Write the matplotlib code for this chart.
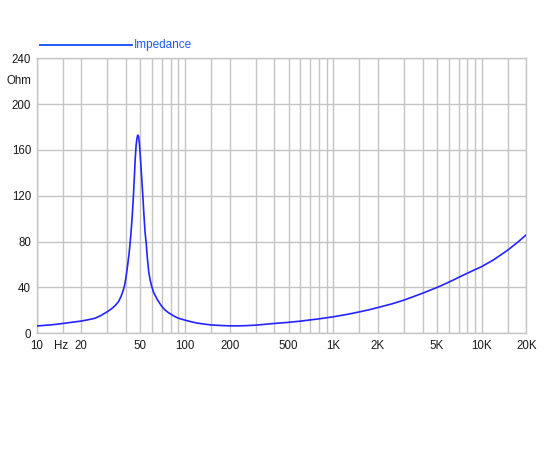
import numpy as np
import matplotlib.pyplot as plt
from matplotlib.lines import Line2D
from matplotlib.ticker import FixedLocator, NullLocator

plt.rcParams['font.family'] = ['Liberation Sans', 'DejaVu Sans']

# impedance curve (Hz, Ohm)
freq = [10, 11, 12, 13.5, 15, 17, 20, 22, 24.7, 27, 30, 32, 33.7, 35.6, 37, 38.4,
        39.3, 40, 41, 42, 43, 44, 44.8, 45.5, 46.2, 46.8, 47.4, 48.0, 48.6, 49.2,
        49.8, 50.5, 51.3, 52.0, 52.8, 53.8, 54.7, 55.7, 57.0, 58.2, 59.6, 61.5,
        64.4, 67, 70, 73.4, 77, 80, 85.7, 90, 95, 100, 110, 120, 135, 150, 175,
        200, 230, 260, 300, 350, 400, 450, 500, 600, 700, 800, 1000, 1250, 1500,
        1750, 2000, 2500, 3000, 3500, 4000, 5000, 6000, 7000, 8000, 10000, 12000,
        15000, 17500, 20000]
ohm = [6.4, 6.8, 7.2, 7.8, 8.6, 9.5, 10.7, 11.7, 13.1, 15.4, 18.9, 21.5, 24.0, 27.6, 32, 37.8,
       43, 49, 59, 70, 84, 101, 118, 135, 153, 164, 170, 173, 172, 166,
       157, 145, 131, 119, 104, 88, 79, 66, 53, 46.5, 41, 35.5,
       30.5, 26.8, 23.2, 20.3, 18.2, 16.8, 14.5, 13.2, 12.3, 11.5, 10.1, 9.0, 8.0, 7.3, 6.8,
       6.5, 6.5, 6.7, 7.1, 7.9, 8.6, 9.1, 9.6, 10.6, 11.7, 12.6, 14.4, 16.6, 18.7,
       20.6, 22.5, 25.8, 29.0, 32.2, 35.0, 40.0, 44.6, 48.8, 52.4, 58.2, 64,
       72.6, 79.5, 86]

grid_x = [10, 15, 20, 30, 40, 50, 60, 70, 80, 90, 100, 150, 200, 300, 400, 500,
          600, 700, 800, 900, 1000, 1500, 2000, 3000, 4000, 5000, 6000, 7000,
          8000, 9000, 10000, 15000, 20000]
label_x = [10, 20, 50, 100, 200, 500, 1000, 2000, 5000, 10000, 20000]
label_x_txt = ['10', '20', '50', '100', '200', '500', '1K', '2K', '5K', '10K', '20K']
grid_y = [0, 40, 80, 120, 160, 200, 240]

grid_col = '#c4c4c4'
curve_col = '#2424ff'
legend_col = '#1f5cff'
text_col = '#1a1a1a'

fig = plt.figure(figsize=(5.5, 4.5), dpi=100)
ax = fig.add_axes([36.7/550, 116.7/450, 489.6/550, 275/450])

ax.plot(freq, ohm, color=curve_col, linewidth=1.2, zorder=3)

ax.set_xscale('log')
ax.set_xlim(10, 20000)
ax.set_ylim(0, 240)

for gx in grid_x:
    ax.axvline(gx, color=grid_col, linewidth=1.0, zorder=1)
for gy in grid_y:
    ax.axhline(gy, color=grid_col, linewidth=1.0, zorder=1)

ax.xaxis.set_major_locator(FixedLocator(label_x))
ax.xaxis.set_minor_locator(NullLocator())
ax.set_xticklabels(label_x_txt)
ax.set_yticks(grid_y)
ax.tick_params(axis='both', length=0, labelsize=8.3, colors=text_col)
ax.tick_params(axis='x', pad=5)
ax.tick_params(axis='y', pad=4)
for s in ax.spines.values():
    s.set_color(grid_col)
    s.set_linewidth(1.0)

# unit labels
ax.annotate('Hz', xy=(14.5, 0), xycoords=('data', 'axes fraction'),
            xytext=(0, -5), textcoords='offset points', ha='center', va='top',
            fontsize=8.3, color=text_col)
ax.annotate('Ohm', xy=(0, 220), xycoords=('axes fraction', 'data'),
            xytext=(-4, 0), textcoords='offset points', ha='right', va='center',
            fontsize=8.3, color=text_col)

# legend at the top
fig.add_artist(Line2D([39.5/550, 131.5/550], [1 - 45.3/450, 1 - 45.3/450],
                      color=legend_col, linewidth=1.4))
fig.text(134/550, 1 - 45/450, 'Impedance', color=legend_col, fontsize=8.5,
         ha='left', va='center')

plt.savefig('out.png', dpi=100)
